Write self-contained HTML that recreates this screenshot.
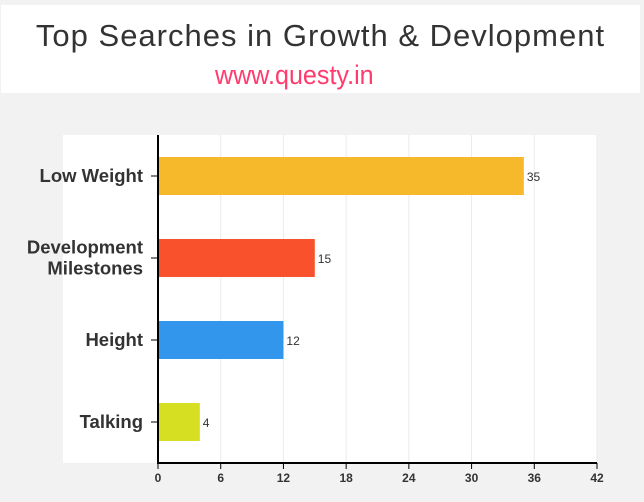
<!DOCTYPE html>
<html><head><meta charset="utf-8"><style>
html,body{margin:0;padding:0;background:#f2f2f2;width:644px;height:502px;overflow:hidden;font-family:"Liberation Sans",sans-serif}
#top{position:absolute;left:1px;top:5px;width:639px;height:88px;background:#fff}
#title{position:absolute;left:0;top:13px;width:639px;text-align:center;font-size:31px;color:#333;letter-spacing:1px}
#url{position:absolute;left:214px;top:55px;font-size:27px;color:#ff3a6c;transform:scaleX(0.93);transform-origin:left}
svg{position:absolute;left:0;top:0}
</style></head><body>
<div id="top">
<div id="title">Top Searches in Growth &amp; Devlopment</div>
<div id="url">www.questy.in</div>
</div>
<svg id="c" width="644" height="502"></svg>
<script>
const categories=[["Low Weight"],["Development","Milestones"],["Height"],["Talking"]];
const values=[35,15,12,4];
const colors=["#f6b92b","#f9512b","#3296ec","#d6df21"];
const ticks=[0,6,12,18,24,30,36,42];
const svg=document.getElementById('c');
const NS="http://www.w3.org/2000/svg";
const x0=158,x1=597,yTop=135,yBot=463,xMax=42;
const xs=v=>x0+(x1-x0)*v/xMax;
const band=(yBot-yTop)/categories.length;
const yc=i=>yTop+band*(i+0.5);
function el(t,a){const e=document.createElementNS(NS,t);for(const k in a)e.setAttribute(k,a[k]);svg.appendChild(e);return e;}
const panel=el('rect',{x:63,y:yTop,width:x1-63,height:yBot-yTop,fill:'#fff'});


ticks.forEach(t=>{
 if(t>0){const g=el('line',{x1:xs(t),x2:xs(t),y1:yTop,y2:yBot,stroke:'#ebebeb','stroke-width':1});
 
 }
 const tk=el('line',{x1:xs(t),x2:xs(t),y1:yBot,y2:yBot+6,stroke:'#000','stroke-width':1});
 
 
 const tl=el('text',{x:xs(t),y:482,'text-anchor':'middle','font-size':12,'font-weight':'bold',fill:'#333'});
 tl.textContent=t;
 
 
});
values.forEach((v,i)=>{
 const b=el('rect',{x:x0,y:yc(i)-19,width:xs(v)-x0,height:38,fill:colors[i]});
 
 
 const vl=el('text',{x:xs(v)+3,y:yc(i)+5,'font-size':12,fill:'#333'});
 vl.textContent=v;
 
 
 const tk=el('line',{x1:x0-7,x2:x0,y1:yc(i),y2:yc(i),stroke:'#000','stroke-width':1});
 
 
 const lines=categories[i];
 lines.forEach((ln,j)=>{
  const t=el('text',{x:143,y:yc(i)+6+(j-(lines.length-1)/2)*21,'text-anchor':'end','font-size':18.5,'font-weight':'bold',fill:'#333'});
  t.textContent=ln;
  
  
 });
});
const ya=el('line',{x1:x0,x2:x0,y1:yTop,y2:yBot+1,stroke:'#000','stroke-width':2});


const xa=el('line',{x1:x0-1,x2:x1,y1:yBot,y2:yBot,stroke:'#000','stroke-width':2});


</script>
</body></html>
